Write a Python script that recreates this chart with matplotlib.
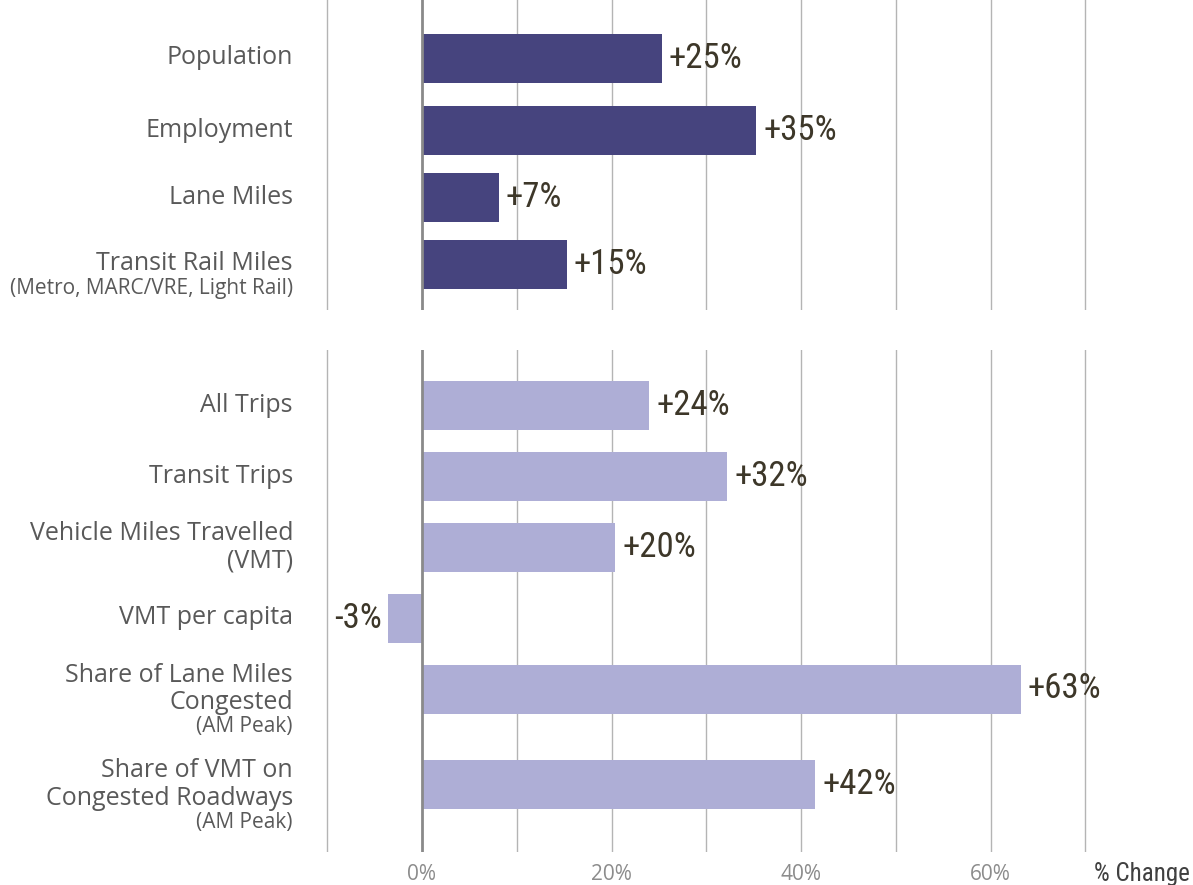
import matplotlib
matplotlib.use('Agg')
import matplotlib.pyplot as plt
from matplotlib.transforms import blended_transform_factory

# ---- data ----
top_names = ['Population', 'Employment', 'Lane Miles', 'Transit Rail Miles']
top_subs = ['', '', '', '(Metro, MARC/VRE, Light Rail)']
top_values = [25.3, 35.3, 8.1, 15.3]
top_labels = ['+25%', '+35%', '+7%', '+15%']

bot_names = ['All Trips', 'Transit Trips', 'Vehicle Miles Travelled\n(VMT)', 'VMT per capita',
             'Share of Lane Miles\nCongested', 'Share of VMT on\nCongested Roadways']
bot_subs = ['', '', '', '', '(AM Peak)', '(AM Peak)']
bot_values = [24.0, 32.2, 20.4, -3.6, 63.2, 41.5]
bot_labels = ['+24%', '+32%', '+20%', '-3%', '+63%', '+42%']

xticks = [0, 20, 40, 60]
xtick_labels = ['0%', '20%', '40%', '60%']
grid_x = [-10, 0, 10, 20, 30, 40, 50, 60, 70]

# layout (positions only)
top_pos = [0, 1.06, 2.03, 3]
bot_pos = [0, 1, 2, 3, 4, 5.35]

DARK = '#46447e'
LIGHT = '#aeaed6'
LABEL_C = '#595959'
VAL_C = '#3d3729'
VAL_FONT = ['Roboto Condensed', 'Roboto', 'DejaVu Sans']

W, H = 1193, 885
fig = plt.figure(figsize=(W / 100, H / 100), dpi=100, facecolor='white')

x0, x1 = -11, 71
px_per_unit = 9.475
ax_left = 422 + x0 * px_per_unit
ax_w = (x1 - x0) * px_per_unit


def make_ax(top_px, bot_px, ylim):
    ax = fig.add_axes([ax_left / W, 1 - bot_px / H, ax_w / W, (bot_px - top_px) / H])
    ax.set_xlim(x0, x1)
    ax.set_ylim(*ylim)
    for s in ax.spines.values():
        s.set_visible(False)
    ax.set_xticks([])
    ax.set_yticks([])
    for gx in grid_x:
        if gx == 0:
            ax.axvline(gx, color='#8a8a8a', lw=2, zorder=3)
        else:
            ax.axvline(gx, color='#b4b4b4', lw=1, zorder=0)
    return ax


def draw(ax, pos, names, subs, values, labels, color, bar_h):
    ax.barh(pos, values, height=bar_h, color=color, zorder=2)
    tr = blended_transform_factory(ax.transAxes, ax.transData)
    lx = (293 - ax_left) / ax_w
    for p, n, s, v, l in zip(pos, names, subs, values, labels):
        nlines = n.count('\n') + 1
        ax.annotate(n, (lx, p), xycoords=tr, ha='right', va='center',
                    fontsize=18, color=LABEL_C, family='Open Sans', linespacing=1.15)
        if s:
            off = (nlines - 1) * 9.7 + 17.5
            ax.annotate(s, (lx, p), xycoords=tr, xytext=(0, -off), textcoords='offset points',
                        ha='right', va='center', fontsize=15, color=LABEL_C, family='Open Sans')
        if v >= 0:
            ax.annotate(l, (v, p), xytext=(5, 0), textcoords='offset points', ha='left', va='center',
                        fontsize=25, color=VAL_C, family=VAL_FONT)
        else:
            ax.annotate(l, (v, p), xytext=(-4, 0), textcoords='offset points', ha='right', va='center',
                        fontsize=25, color=VAL_C, family=VAL_FONT)


# top panel: centres 58 -> 264 px
s_top = (264 - 58) / 3
ax1 = make_ax(0, 310, ((310 - 58) / s_top, -58 / s_top))
draw(ax1, top_pos, top_names, top_subs, top_values, top_labels, DARK, 49 / s_top)

# bottom panel: centres 405 -> 689 px
s_bot = (689 - 405) / 4
ax2 = make_ax(350, 852, ((852 - 405) / s_bot, (350 - 405) / s_bot))
draw(ax2, bot_pos, bot_names, bot_subs, bot_values, bot_labels, LIGHT, 49 / s_bot)

# x tick labels below
for t, tl in zip(xticks, xtick_labels):
    ax2.annotate(tl, (t, 0), xycoords=('data', 'axes fraction'), xytext=(0, -16),
                 textcoords='offset points', ha='center', va='center',
                 fontsize=15, color='#8c8c8c', family='Open Sans')
ax2.annotate('% Change', (70, 0), xycoords=('data', 'axes fraction'), xytext=(6, -16),
             textcoords='offset points', ha='left', va='center',
             fontsize=18, color='#404040', family=VAL_FONT)

fig.savefig('out.png', dpi=100, facecolor='white')
